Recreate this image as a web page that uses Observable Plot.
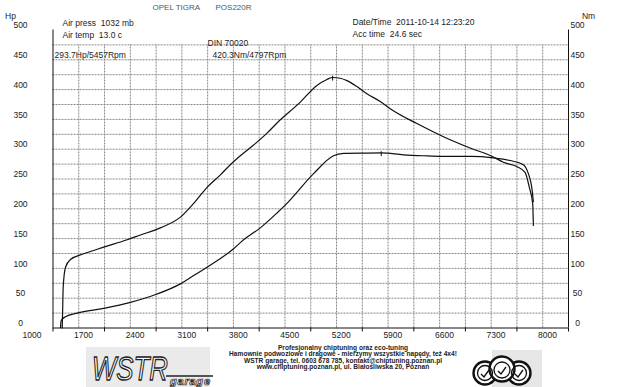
<!DOCTYPE html>
<html>
<head>
<meta charset="utf-8">
<script src="https://cdn.jsdelivr.net/npm/d3@7"></script>
<script src="https://cdn.jsdelivr.net/npm/@observablehq/plot@0.6"></script>
<style>
  html, body { margin: 0; padding: 0; background: #fff; }
  #wrap { position: relative; width: 620px; height: 387px; overflow: hidden; background: #fff; font-family: "Liberation Sans", sans-serif; }
  #footer { position: absolute; left: 0; top: 345px; width: 620px; height: 42px; }
</style>
</head>
<body>
<div id="wrap">
  <div id="chart"></div>
  <div id="footer">
    <svg width="620" height="42" viewBox="0 0 620 42" xmlns="http://www.w3.org/2000/svg">
      <rect x="86" y="2" width="124" height="40" fill="#eaeaea"/>
      <text x="92" y="35" font-family="Liberation Sans" font-style="italic" font-size="33" textLength="76" lengthAdjust="spacingAndGlyphs" fill="#fff" stroke="#222" stroke-width="1.3">WSTR</text>
      <line x1="166" y1="31" x2="213" y2="31" stroke="#222" stroke-width="1.3"/>
      <text x="170" y="40" font-family="Liberation Sans" font-style="italic" font-weight="bold" font-size="11" textLength="40" fill="#fff" stroke="#222" stroke-width="0.7">garage</text>
      <g font-family="Liberation Sans" font-weight="bold" font-size="6.6" fill="#222" text-anchor="middle">
        <text id="f1" x="343" y="5"></text>
        <text id="f2" x="343" y="11.3"></text>
        <text id="f3" x="343" y="17.6"></text>
        <text id="f4" x="343" y="23.9"></text>
      </g>
      <rect x="492" y="5" width="50" height="37" fill="#e6e6e6"/>
      <g fill="#fff" stroke="#111" stroke-width="2.4">
        <circle cx="485" cy="28" r="11.5"/>
        <circle cx="519" cy="28" r="11.5"/>
        <circle cx="502" cy="24" r="12.5"/>
      </g>
      <g fill="none" stroke="#111" stroke-width="1.3">
        <circle cx="485" cy="28" r="7.5"/>
        <circle cx="519" cy="28" r="7.5"/>
        <circle cx="502" cy="25" r="8"/>
        <path d="M481 29 l3 3 l5 -7"/>
        <path d="M498 26 l3 3 l5 -7"/>
        <path d="M515 29 l3 3 l5 -7"/>
      </g>
    </svg>
  </div>
</div>
<script>
// ---- data ----
const rpmTicks = [1000, 1700, 2400, 3100, 3800, 4500, 5200, 5900, 6600, 7300, 8000];
const valueTicks = [0, 50, 100, 150, 200, 250, 300, 350, 400, 450, 500];

const torqueRpm = [1125, 1132, 1138, 1170, 1237, 1418, 1689, 2007, 2187, 2458, 2730, 2910, 3092, 3273, 3408, 3544, 3724, 3906, 4042, 4358, 4584, 4720, 4797, 4900, 4991, 5127, 5263, 5443, 5579, 5941, 6302, 6664, 6980, 7116, 7297, 7410, 7468, 7514, 7523];
const torqueNm  = [0, 35, 68, 102, 115, 124.5, 135.6, 148, 156, 168, 186, 209, 236, 257, 274, 289, 307, 327, 344, 379, 407, 417, 420.3, 419, 415, 405, 393, 380, 368, 343, 321, 302, 287, 278, 271, 261, 236, 208, 172];

const powerRpm = [1102, 1111, 1170, 1328, 1689, 2051, 2414, 2730, 2910, 3092, 3453, 3588, 3815, 4042, 4177, 4538, 4809, 4945, 5263, 5457, 5759, 6030, 6302, 6664, 6980, 7207, 7387, 7455, 7501, 7523];
const powerHp  = [1, 12.6, 19, 25, 33, 43, 57, 74, 88, 102, 133, 148, 168, 193, 209, 259, 289, 293, 293.5, 293.7, 290.6, 289, 288, 288, 285.6, 281, 274, 259, 236, 212];

const peakRpm = [5457, 4797];
const peakValue = [293.7, 420.3];

const unitLeft = ["Hp"];
const unitRight = ["Nm"];
const vehicle = ["OPEL TIGRA", "POS220R"];
const conditions = ["Air press  1032 mb", "Air temp  13.0 c"];
const runInfo = ["Date/Time  2011-10-14 12:23:20", "Acc time  24.6 sec"];
const standard = ["DIN 70020"];
const peakLabels = ["293.7Hp/5457Rpm", "420.3Nm/4797Rpm"];
const footerLines = [
  "Profesjonalny chiptuning oraz eco-tuning",
  "Hamownie podwoziowe i dragowe - mierzymy wszystkie napędy, też 4x4!",
  "WSTR garage, tel. 0603 678 785, kontakt@chiptuning.poznan.pl",
  "www.chiptuning.poznan.pl, ul. Białośliwska 20, Poznań"
];

// ---- build tables ----
const torque = torqueRpm.map((r, i) => ({rpm: r, v: torqueNm[i]}));
const power = powerRpm.map((r, i) => ({rpm: r, v: powerHp[i]}));
const peaks = peakRpm.map((r, i) => ({rpm: r, v: peakValue[i]}));

const gridRpm = [1350, 1700, 2050, 2400, 2750, 3100, 3450, 3800, 4150, 4500, 4850, 5200, 5550, 5900, 6250, 6600, 6950, 7300, 7650];
const gridVal = [25, 50, 75, 100, 125, 150, 175, 200, 225, 250, 275, 300, 325, 350, 375, 400, 425, 450, 475];

const T = (arr, opts) => Plot.text(arr, {text: d => d, frameAnchor: "top-left", textAnchor: "start", fill: "#222", ...opts});

const chart = Plot.plot({
  width: 620,
  height: 345,
  marginLeft: 52.5,
  marginRight: 52,
  marginTop: 29.5,
  marginBottom: 17.5,
  x: {domain: [1000, 8000], axis: null},
  y: {domain: [0, 500], axis: null},
  style: {fontFamily: "Liberation Sans", fontSize: "8.5px", background: "#fff", color: "#222"},
  marks: [
    Plot.ruleY(gridVal, {y: d => d, stroke: "#888", strokeWidth: 1, strokeDasharray: "2,1"}),
    Plot.ruleX(gridRpm, {x: d => d, y1: 0, y2: 475, stroke: "#888", strokeWidth: 1, strokeDasharray: "2,1"}),
    Plot.ruleX([1000, 8000], {x: d => d, y1: 0, y2: 500, stroke: "#111", strokeWidth: 1}),
    Plot.ruleY([0], {stroke: "#111", strokeWidth: 1}),
    Plot.axisX(rpmTicks, {tickSize: 4, fill: "none", label: null, stroke: "#111", tickFormat: d => String(d)}),
    Plot.axisX(rpmTicks, {tickSize: 0, tickPadding: 4, dx: -21, label: null, fill: "#222", tickFormat: d => String(d)}),
    Plot.text(valueTicks, {y: d => d, text: d => String(d), frameAnchor: "left", dx: -32.5, dy: -4.5, textAnchor: "middle", fill: "#222"}),
    Plot.text(valueTicks, {y: d => d, text: d => String(d), frameAnchor: "right", dx: 9, dy: -4.5, textAnchor: "middle", fill: "#222"}),
    Plot.line(torque, {x: "rpm", y: "v", stroke: "#111", strokeWidth: 1.2, curve: "monotone-x"}),
    Plot.line(power, {x: "rpm", y: "v", stroke: "#111", strokeWidth: 1.2, curve: "monotone-x"}),
    Plot.ruleX(peaks, {x: "rpm", y1: d => d.v - 6, y2: d => d.v + 2, stroke: "#111", strokeWidth: 1}),
    T(unitLeft, {dx: -42.5, dy: -17.5, textAnchor: "middle"}),
    Plot.text(unitRight, {text: d => d, frameAnchor: "top-right", dx: 20, dy: -17.5, textAnchor: "middle", fill: "#222"}),
    T([vehicle[0]], {dx: 99.5, dy: -25.5, fill: "#555", fontSize: 8, letterSpacing: 1}),
    T([vehicle[1]], {dx: 162.5, dy: -25.5, fill: "#555", fontSize: 8, letterSpacing: 1}),
    T([conditions[0]], {dx: 9.5, dy: -10}),
    T([conditions[1]], {dx: 9.5, dy: 1.5}),
    T([runInfo[0]], {dx: 299.5, dy: -11}),
    T([runInfo[1]], {dx: 299.5, dy: 0.5}),
    T(standard, {dx: 154.5, dy: 10}),
    T([peakLabels[0]], {dx: 1.5, dy: 21.5}),
    T([peakLabels[1]], {dx: 159.5, dy: 21.5})
  ]
});
document.getElementById("chart").appendChild(chart);
footerLines.forEach((t, i) => { document.getElementById("f" + (i + 1)).textContent = t; });
</script>
</body>
</html>
